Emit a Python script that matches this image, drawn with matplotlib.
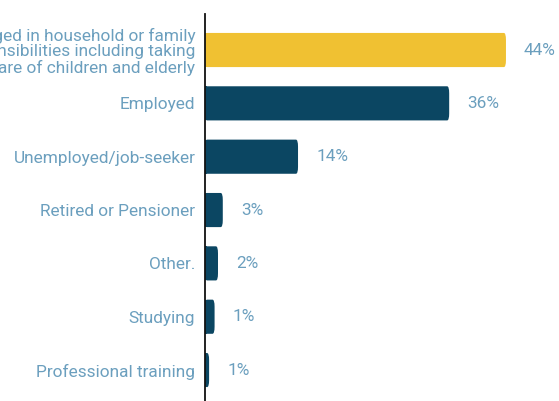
import matplotlib
matplotlib.use("Agg")
import matplotlib.pyplot as plt
from matplotlib.patches import FancyBboxPatch

categories = [
    "Engaged in household or family\nresponsibilities including taking\ncare of children and elderly",
    "Employed",
    "Unemployed/job-seeker",
    "Retired or Pensioner",
    "Other.",
    "Studying",
    "Professional training",
]
values = [44.0, 35.7, 13.6, 2.6, 1.9, 1.4, 0.6]
colors = ["#f0c132", "#0b4662", "#0b4662", "#0b4662", "#0b4662", "#0b4662", "#0b4662"]

label_color = "#6b9fbe"
plt.rcParams["font.family"] = ["Roboto", "DejaVu Sans"]

W, H = 559, 401
fig = plt.figure(figsize=(W / 100, H / 100), dpi=100)
ax = fig.add_axes([205 / W, 0, (W - 205) / W, (H - 14) / H])

bar_h = 0.64
ypos = list(range(len(categories)))
bars = ax.barh(ypos, values, height=bar_h, color=colors, edgecolor="none")

# Replace plain rectangles with right-rounded ones
for b, c in zip(bars, colors):
    b.set_visible(False)
    x0, y0 = b.get_x(), b.get_y()
    w, h = b.get_width(), b.get_height()
    ax.add_patch(plt.Rectangle((x0, y0), min(w, 0.3), h, color=c, lw=0))
    p = FancyBboxPatch((x0, y0), w, h,
                       boxstyle="round,pad=0,rounding_size=0.3",
                       mutation_aspect=0.044 / 0.3 * 3,
                       color=c, lw=0)
    ax.add_patch(p)

for y, v in zip(ypos, values):
    ax.annotate(f"{round(v):d}%", xy=(v, y), xytext=(13, 0), textcoords="offset points",
                va="center", ha="left", color=label_color, fontsize=12.4)

ax.set_xlim(0, (W - 205) / 6.84)
ax.set_ylim(6.58, -0.675)
ax.set_yticks(ypos)
ax.set_yticklabels(categories, color=label_color, fontsize=12.4, linespacing=1.04)
ax.tick_params(axis="y", length=0, pad=7)
ax.set_xticks([])
for s in ["top", "right", "bottom"]:
    ax.spines[s].set_visible(False)
ax.spines["left"].set_color("#111111")
ax.spines["left"].set_linewidth(1.3)

fig.savefig("out.png", dpi=100)
